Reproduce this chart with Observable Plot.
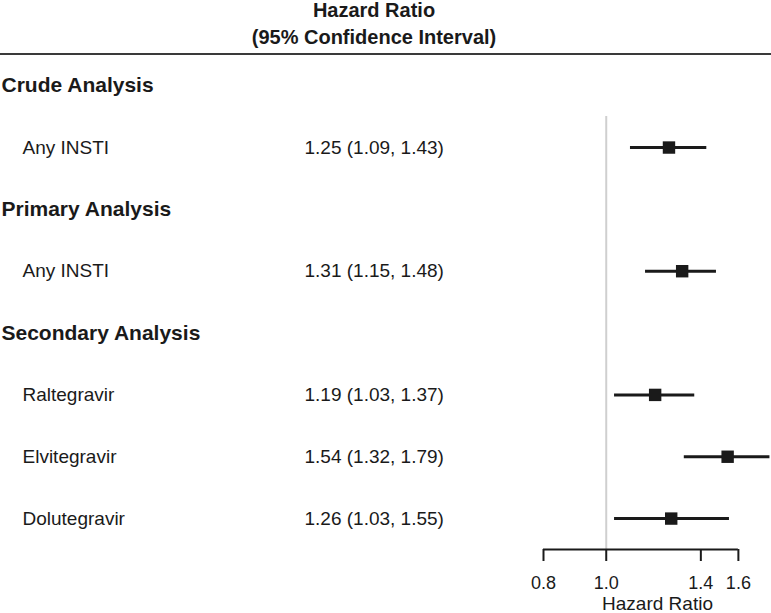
<!DOCTYPE html>
<html>
<head>
<meta charset="utf-8">
<script src="https://cdn.jsdelivr.net/npm/d3@7"></script>
<script src="https://cdn.jsdelivr.net/npm/@observablehq/plot@0.6"></script>
<style>
  html, body { margin: 0; padding: 0; background: #fff; }
  body { position: relative; width: 771px; height: 613px; overflow: hidden; font-family: "Liberation Sans", Arial, sans-serif; color: #1a1a1a; }
  #title { position: absolute; left: 0; top: -3px; width: 748px; text-align: center; font-weight: bold; font-size: 20px; line-height: 27px; }
  #hline { position: absolute; left: 0; top: 53px; width: 771px; height: 2px; background: #3a3a3a; }
  #chart { position: absolute; left: 0; top: 56px; }
</style>
</head>
<body>
<div id="title">Hazard Ratio<br>(95% Confidence Interval)</div>
<div id="hline"></div>
<div id="chart"></div>
<script>
// ---- data ----
const groups = ["Crude Analysis", "Primary Analysis", "Secondary Analysis"];
const labels = ["Any INSTI", "Any INSTI", "Raltegravir", "Elvitegravir", "Dolutegravir"];
const groupOf = [0, 1, 2, 2, 2];
const hr = [1.25, 1.31, 1.19, 1.54, 1.26];
const lower = [1.09, 1.15, 1.03, 1.32, 1.03];
const upper = [1.43, 1.48, 1.37, 1.79, 1.55];
const xTicks = [0.8, 1.0, 1.4, 1.6];
const xLabel = "Hazard Ratio";

// ---- layout rows ----
const headerRows = [];
const itemRows = [];
let r = 0;
groups.forEach((g, gi) => {
  headerRows.push({text: g, row: r++});
  labels.forEach((l, i) => {
    if (groupOf[i] === gi) {
      itemRows.push({
        label: l, hr: hr[i], lower: lower[i], upper: upper[i], row: r++,
        ci: `${hr[i].toFixed(2)} (${lower[i].toFixed(2)}, ${upper[i].toFixed(2)})`
      });
    }
  });
});
const yMax = r - 0.5;
const ink = "#1a1a1a";

const chart = Plot.plot({
  width: 771,
  height: 557,
  marginLeft: 543,
  marginRight: 0,
  marginTop: 0,
  marginBottom: 64,
  style: {fontFamily: "Liberation Sans, Arial, sans-serif", color: ink, background: "white", overflow: "visible"},
  x: {type: "log", domain: [0.8, 1.8]},
  y: {domain: [0, yMax], range: [29.2, 493], axis: null},
  marks: [
    Plot.ruleX([1], {y1: 0.5, y2: yMax, stroke: "#cfcfcf", strokeWidth: 2}),
    Plot.ruleY([yMax], {x1: xTicks[0], x2: xTicks[xTicks.length - 1], stroke: ink, strokeWidth: 2}),
    Plot.axisX({ticks: xTicks, tickSize: 12, tickPadding: 15, tickFormat: d3.format(".1f"), fontSize: 18, stroke: ink, strokeWidth: 2, label: null}),
    Plot.text([xLabel], {frameAnchor: "bottom", dy: 60, fontSize: 19, fill: ink}),
    Plot.ruleY(itemRows, {y: "row", x1: "lower", x2: "upper", stroke: ink, strokeWidth: 3}),
    Plot.dot(itemRows, {x: "hr", y: "row", symbol: "square", r: 7, fill: ink, stroke: null}),
    Plot.text(headerRows, {y: "row", text: "text", frameAnchor: "left", dx: -542, textAnchor: "start", fontSize: 21, fontWeight: "bold", fill: ink}),
    Plot.text(itemRows, {y: "row", text: "label", frameAnchor: "left", dx: -521, textAnchor: "start", fontSize: 19, fill: ink}),
    Plot.text(itemRows, {y: "row", text: "ci", frameAnchor: "left", dx: -239, textAnchor: "start", fontSize: 19, fill: ink})
  ]
});
document.getElementById("chart").appendChild(chart);
</script>
</body>
</html>
